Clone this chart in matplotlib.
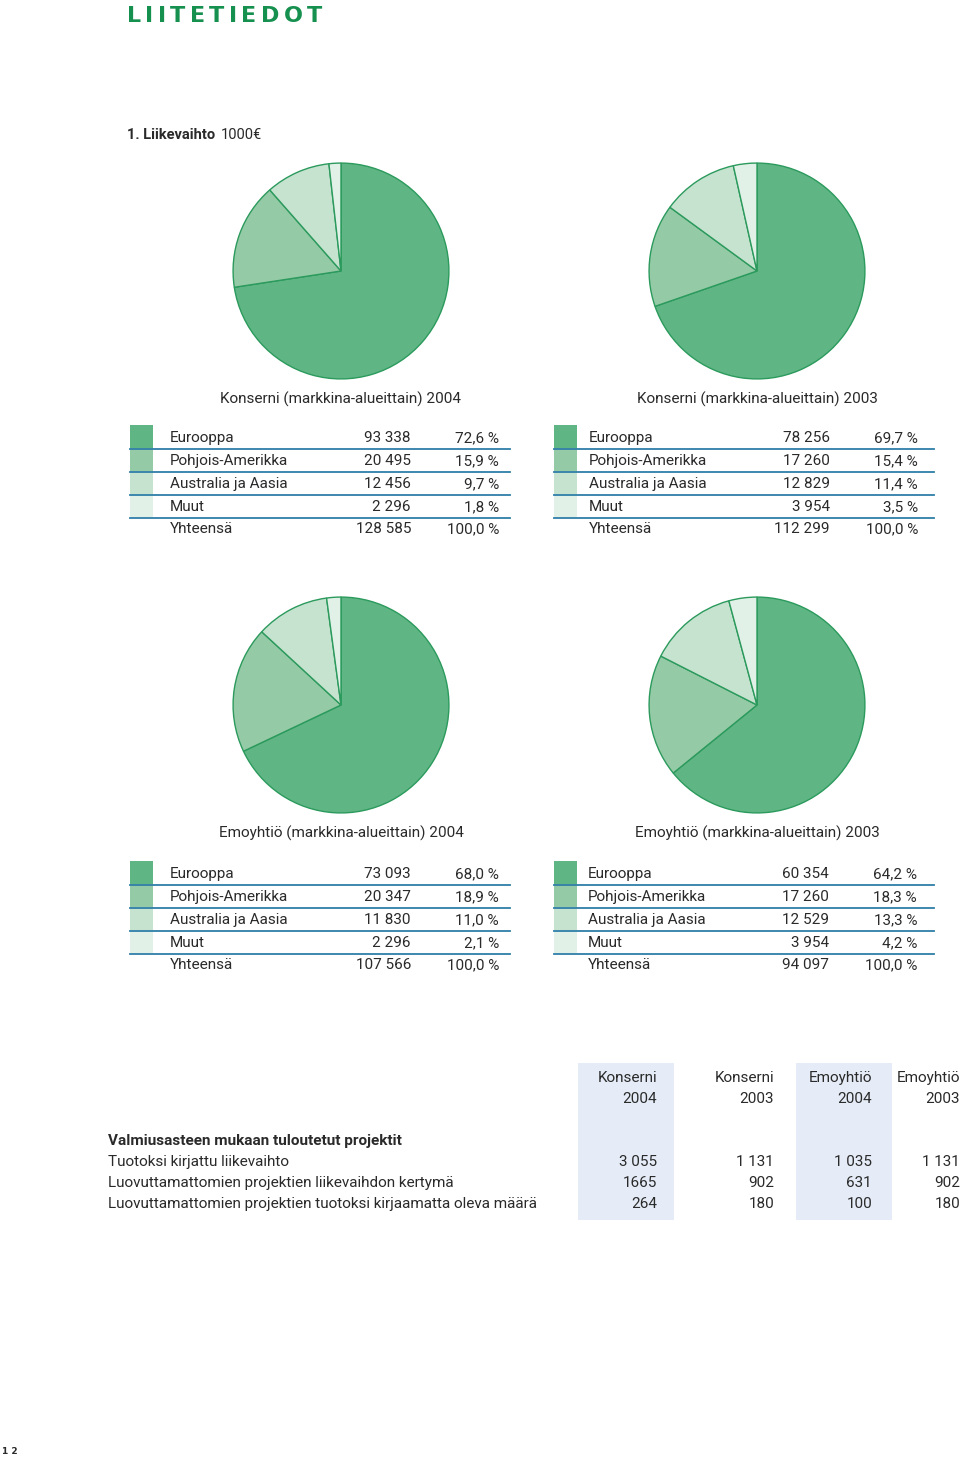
import matplotlib
matplotlib.use('Agg')
import matplotlib.pyplot as plt
from matplotlib.patches import Rectangle

plt.rcParams['font.family'] = ['Roboto', 'DejaVu Sans']

# data
regions = ['Eurooppa', 'Pohjois-Amerikka', 'Australia ja Aasia', 'Muut']
total_label = 'Yhteensä'

konserni_2004 = [93338, 20495, 12456, 2296]
konserni_2004_pct = [72.6, 15.9, 9.7, 1.8]
konserni_2003 = [78256, 17260, 12829, 3954]
konserni_2003_pct = [69.7, 15.4, 11.4, 3.5]
emo_2004 = [73093, 20347, 11830, 2296]
emo_2004_pct = [68.0, 18.9, 11.0, 2.1]
emo_2003 = [60354, 17260, 12529, 3954]
emo_2003_pct = [64.2, 18.3, 13.3, 4.2]

titles = ['Konserni (markkina-alueittain) 2004', 'Konserni (markkina-alueittain) 2003',
          'Emoyhtiö (markkina-alueittain) 2004', 'Emoyhtiö (markkina-alueittain) 2003']

proj_cols = [('Konserni', '2004'), ('Konserni', '2003'), ('Emoyhtiö', '2004'), ('Emoyhtiö', '2003')]
proj_title = 'Valmiusasteen mukaan tuloutetut projektit'
proj_rows = ['Tuotoksi kirjattu liikevaihto',
             'Luovuttamattomien projektien liikevaihdon kertymä',
             'Luovuttamattomien projektien tuotoksi kirjaamatta oleva määrä']
proj_konserni_2004 = [3055, 1665, 264]
proj_konserni_2003 = [1131, 902, 180]
proj_emo_2004 = [1035, 631, 100]
proj_emo_2003 = [1131, 902, 180]

pie_colors = ['#5fb684', '#95caa6', '#c6e3d0', '#e2f1e7']
edge = '#2b9a5c'
line_col = '#2e7ea8'
txt = '#2a2a2a'
fs = 11
W, H = 960, 1457

def fmt(v):
	return '{:,}'.format(v).replace(',', ' ')

def fmt_pct(p):
	return ('%.1f' % p).replace('.', ',') + ' %'

fig = plt.figure(figsize=(W/100, H/100), dpi=100)
ax = fig.add_axes([0, 0, 1, 1])
ax.set_xlim(0, W)
ax.set_ylim(H, 0)
ax.axis('off')

# header, letter spaced to fill 127..322
renderer = fig.canvas.get_renderer()
letters = []
widths = []
for ch in 'LIITETIEDOT':
	t = ax.text(0, 16, ch, fontsize=16, fontweight='bold', color='#16904f', va='center', ha='left', family='DejaVu Sans')
	letters.append(t)
	widths.append(t.get_window_extent(renderer).width)
gap = (322 - 127 - sum(widths)) / (len(widths) - 1)
x = 127
for t, w in zip(letters, widths):
	t.set_x(x)
	x += w + gap
ax.text(127, 135, '1. Liikevaihto', fontsize=10.5, fontweight='bold', color=txt, va='center')
ax.text(221, 135, '1000€', fontsize=10.5, color=txt, va='center')

datasets = [(konserni_2004, konserni_2004_pct), (konserni_2003, konserni_2003_pct),
            (emo_2004, emo_2004_pct), (emo_2003, emo_2003_pct)]
pie_pos = [(341, 271), (757, 271), (341, 705), (757, 705)]
tab_x = [130, 554, 130, 554]
tab_y = [438, 438, 874, 874]
lab_off = [40, 35, 40, 34]
num_off = [281, 276, 281, 275]
pct_off = [369, 364, 369, 363]
R = 109

for k, (vals, pcts) in enumerate(datasets):
	cx, cy = pie_pos[k]
	pax = fig.add_axes([(cx-R)/W, 1-(cy+R)/H, 2*R/W, 2*R/H])
	pax.pie(vals, colors=pie_colors, startangle=90, counterclock=False,
	        wedgeprops=dict(edgecolor=edge, linewidth=1.0))
	pax.set_xlim(-1.01, 1.01)
	pax.set_ylim(-1.01, 1.01)
	pax.axis('off')

	ax.text(cx, cy+128, titles[k], fontsize=fs, color=txt, ha='center', va='center')

	x0 = tab_x[k]
	y0 = tab_y[k]
	step = 23
	for i, name in enumerate(regions):
		yc = y0 + i*step
		ax.add_patch(Rectangle((x0, yc-13), 23, step, facecolor=pie_colors[i], edgecolor='none'))
		ax.plot([x0, x0+380], [yc+10.5, yc+10.5], color=line_col, lw=1.3)
		ax.text(x0+lab_off[k], yc, name, fontsize=fs, color=txt, va='center')
		ax.text(x0+num_off[k], yc, fmt(vals[i]), fontsize=fs, color=txt, va='center', ha='right')
		ax.text(x0+pct_off[k], yc, fmt_pct(pcts[i]), fontsize=fs, color=txt, va='center', ha='right')
	yc = y0 + 4*step - 1
	ax.text(x0+lab_off[k], yc, total_label, fontsize=fs, color=txt, va='center')
	ax.text(x0+num_off[k], yc, fmt(sum(vals)), fontsize=fs, color=txt, va='center', ha='right')
	ax.text(x0+pct_off[k], yc, fmt_pct(100.0), fontsize=fs, color=txt, va='center', ha='right')

# project table
for bx in [578, 796]:
	ax.add_patch(Rectangle((bx, 1063), 96, 157, facecolor='#e5ecf7', edgecolor='none'))
col_right = [657, 774, 872, 960]
proj_vals = [proj_konserni_2004, proj_konserni_2003, proj_emo_2004, proj_emo_2003]
for j, (h1, h2) in enumerate(proj_cols):
	ax.text(col_right[j], 1078, h1, fontsize=fs, color=txt, ha='right', va='center')
	ax.text(col_right[j], 1099, h2, fontsize=fs, color=txt, ha='right', va='center')
	for i, v in enumerate(proj_vals[j]):
		s = fmt(v) if v != 1665 else '1665'
		ax.text(col_right[j], 1162 + i*21, s, fontsize=fs, color=txt, ha='right', va='center')
ax.text(108, 1141, proj_title, fontsize=fs, fontweight='bold', color=txt, va='center')
for i, r in enumerate(proj_rows):
	ax.text(108, 1162 + i*21, r, fontsize=fs, color=txt, va='center')

ax.text(2, 1452, '1 2', fontsize=6.5, fontweight='bold', color=txt, va='center', family='DejaVu Sans')

fig.savefig('out.png', dpi=100)
